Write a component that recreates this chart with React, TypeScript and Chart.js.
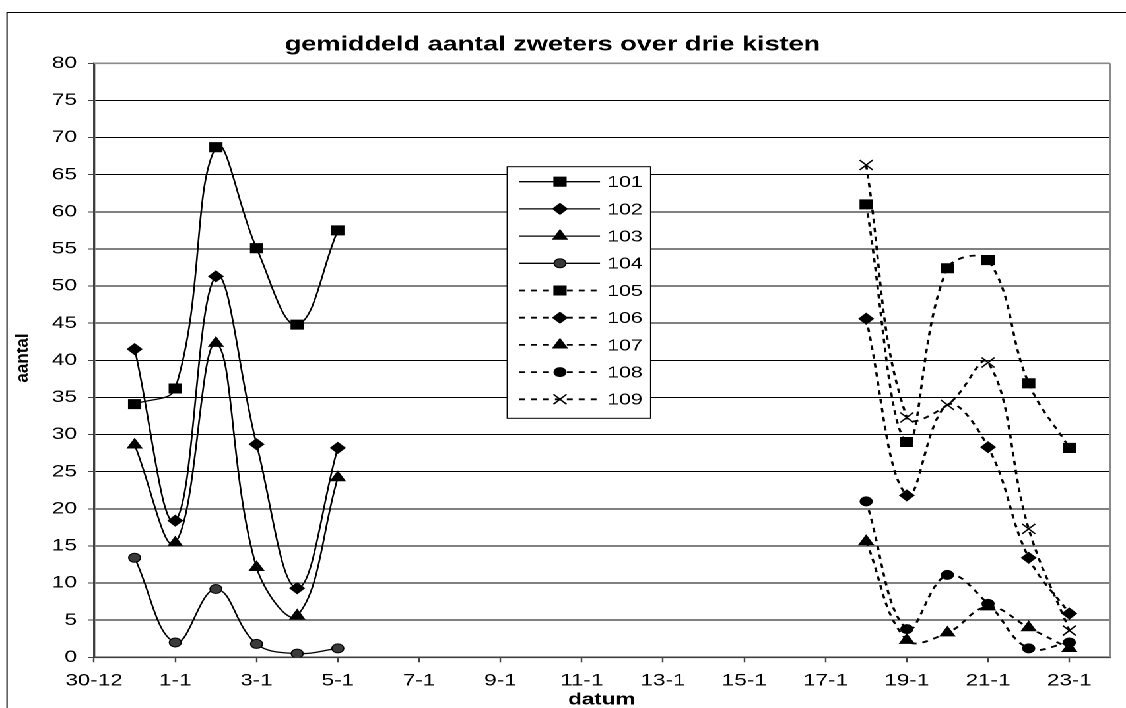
import React, { useEffect, useRef } from 'react';
import { Chart, registerables } from 'chart.js';

Chart.register(...registerables);

// ---- data ----
const seriesNames = ['101', '102', '103', '104', '105', '106', '107', '108', '109'];
const firstDates = ['31-12', '1-1', '2-1', '3-1', '4-1', '5-1'];
const secondDates = ['18-1', '19-1', '20-1', '21-1', '22-1', '23-1'];
const xTickLabels = ['30-12', '1-1', '3-1', '5-1', '7-1', '9-1', '11-1', '13-1', '15-1', '17-1', '19-1', '21-1', '23-1'];

const s101 = [34.1, 36.2, 68.7, 55.1, 44.8, 57.5];
const s102 = [41.5, 18.4, 51.3, 28.7, 9.3, 28.2];
const s103 = [28.6, 15.4, 42.3, 12.1, 5.6, 24.2];
const s104 = [13.4, 2.0, 9.2, 1.8, 0.5, 1.2];
const s105 = [61.0, 29.0, 52.4, 53.5, 36.9, 28.2];
const s106 = [45.6, 21.8, 34.0, 28.3, 13.4, 5.9];
const s107 = [15.6, 2.3, 3.3, 6.8, 4.0, 1.2];
const s108 = [21.0, 3.8, 11.1, 7.2, 1.2, 2.0];
const s109 = [66.3, 32.3, 34.0, 39.7, 17.3, 3.6];
// in the reference the 106 marker on 20-1 is not shown
const s106HiddenMarkers = ['20-1'];

const TITLE = 'gemiddeld aantal zweters over drie kisten';
const Y_TITLE = 'aantal';
const X_TITLE = 'datum';

// ---- layout ----
const W = 853;
const H = 708;
const S = 1126 / W; // horizontal stretch of the whole picture
const FONT = '"Liberation Sans", Arial, sans-serif';

// day index: 30-12 -> 0
function dayIndex(d: string): number {
  const [day, month] = d.split('-').map(Number);
  return month === 12 ? day - 30 : day + 1;
}

type Def = { values: number[]; dates: string[]; style: string; dashed: boolean; fill: string; r: number; hidden?: string[] };
const defs: Def[] = [
  { values: s101, dates: firstDates, style: 'rect', dashed: false, fill: '#000', r: 6.4 },
  { values: s102, dates: firstDates, style: 'rectRot', dashed: false, fill: '#000', r: 5.4 },
  { values: s103, dates: firstDates, style: 'triangle', dashed: false, fill: '#000', r: 6.2 },
  { values: s104, dates: firstDates, style: 'circle', dashed: false, fill: '#3a3a3a', r: 4.5 },
  { values: s105, dates: secondDates, style: 'rect', dashed: true, fill: '#000', r: 6.4 },
  { values: s106, dates: secondDates, style: 'rectRot', dashed: true, fill: '#000', r: 5.4, hidden: s106HiddenMarkers },
  { values: s107, dates: secondDates, style: 'triangle', dashed: true, fill: '#000', r: 6.2 },
  { values: s108, dates: secondDates, style: 'circle', dashed: true, fill: '#000', r: 4.5 },
  { values: s109, dates: secondDates, style: 'crossRot', dashed: true, fill: '#000', r: 7 },
];

const DASH = [4.5, 4.5];

function markerPath(ctx: CanvasRenderingContext2D, style: string, x: number, y: number, r: number) {
  ctx.beginPath();
  if (style === 'rect') {
    const s = Math.SQRT1_2 * r;
    ctx.rect(x - s, y - s, 2 * s, 2 * s);
  } else if (style === 'rectRot') {
    ctx.moveTo(x - r, y);
    ctx.lineTo(x, y - r);
    ctx.lineTo(x + r, y);
    ctx.lineTo(x, y + r);
    ctx.closePath();
  } else if (style === 'triangle') {
    ctx.moveTo(x, y - r);
    ctx.lineTo(x + 0.866 * r, y + 0.5 * r);
    ctx.lineTo(x - 0.866 * r, y + 0.5 * r);
    ctx.closePath();
  } else if (style === 'circle') {
    ctx.arc(x, y, r, 0, Math.PI * 2);
  } else if (style === 'crossRot') {
    const o = Math.SQRT1_2 * r;
    ctx.moveTo(x - o, y - o);
    ctx.lineTo(x + o, y + o);
    ctx.moveTo(x - o, y + o);
    ctx.lineTo(x + o, y - o);
  }
}

const framePlugin = {
  id: 'frame',
  beforeDatasetsDraw(chart: any) {
    const { ctx, chartArea: a } = chart;
    ctx.save();
    ctx.strokeStyle = '#8a8a8a';
    ctx.lineWidth = 1.6;
    ctx.beginPath();
    ctx.moveTo(a.left, a.top);
    ctx.lineTo(a.right, a.top);
    ctx.stroke();
    ctx.lineWidth = 2.2 / S;
    ctx.beginPath();
    ctx.moveTo(a.right, a.top);
    ctx.lineTo(a.right, a.bottom);
    ctx.stroke();
    ctx.restore();
  },
  afterDraw(chart: any) {
    const { ctx } = chart;
    ctx.save();
    // outer border (extends beyond the picture on the right and bottom)
    ctx.strokeStyle = '#000';
    ctx.lineWidth = 1;
    ctx.beginPath();
    ctx.moveTo(7 / S, H + 5);
    ctx.lineTo(7 / S, 12.5);
    ctx.lineTo(W + 5, 12.5);
    ctx.stroke();

    // title
    ctx.fillStyle = '#000';
    ctx.font = `bold 20.5px ${FONT}`;
    ctx.textAlign = 'center';
    ctx.textBaseline = 'alphabetic';
    ctx.fillText(TITLE, 552.5 / S, 50.7);

    // x title
    ctx.font = `bold 17px ${FONT}`;
    ctx.fillText(X_TITLE, 601.7 / S, 704.5);

    // y title
    ctx.save();
    ctx.translate(28 / S, 358);
    ctx.scale(0.75, 1);
    ctx.rotate(-Math.PI / 2);
    ctx.font = `bold 17px ${FONT}`;
    ctx.textBaseline = 'alphabetic';
    ctx.fillText(Y_TITLE, 0, 0);
    ctx.restore();

    // legend
    const bx = 507.3 / S, by = 166.7, bw = (650.7 - 507.3) / S, bh = 418.3 - 166.7;
    ctx.fillStyle = '#fff';
    ctx.fillRect(bx, by, bw, bh);
    ctx.strokeStyle = '#000';
    ctx.lineWidth = 1;
    ctx.strokeRect(bx, by, bw, bh);
    const lx0 = 519.3 / S, lx1 = 600 / S, mx = 560 / S, tx = 607.3 / S;
    seriesNames.forEach((name, i) => {
      const d = defs[i];
      const y = 181.7 + i * 27.2;
      ctx.strokeStyle = '#000';
      ctx.lineWidth = d.dashed ? 1.8 : 1.3;
      ctx.setLineDash(d.dashed ? DASH : []);
      ctx.beginPath();
      ctx.moveTo(lx0, y);
      ctx.lineTo(lx1, y);
      ctx.stroke();
      ctx.setLineDash([]);
      markerPath(ctx, d.style, mx, y, d.r);
      if (d.style === 'crossRot') {
        ctx.lineWidth = 1.3;
        ctx.stroke();
      } else {
        ctx.fillStyle = d.fill;
        ctx.fill();
        ctx.lineWidth = 1;
        ctx.strokeStyle = '#000';
        ctx.stroke();
      }
      ctx.fillStyle = '#000';
      ctx.font = `16px ${FONT}`;
      ctx.textAlign = 'left';
      ctx.textBaseline = 'middle';
      ctx.fillText(name, tx, y + 1);
    });
    ctx.restore();
  },
};

export default function App() {
  const ref = useRef<HTMLCanvasElement>(null);
  useEffect(() => {
    if (!ref.current) return;
    const datasets = defs.map((d, i) => ({
      label: seriesNames[i],
      data: d.dates.map((dt, j) => ({ x: dayIndex(dt), y: d.values[j] })),
      borderColor: '#000',
      borderWidth: d.dashed ? 1.8 : 1.3,
      borderDash: d.dashed ? DASH : [],
      tension: 0.4,
      fill: false,
      pointStyle: d.style,
      pointRadius: d.dates.map((dt) => (d.hidden && d.hidden.includes(dt) ? 0 : d.r)),
      pointBackgroundColor: d.fill,
      pointBorderColor: '#000',
      pointBorderWidth: d.style === 'crossRot' ? 1.3 : 1,
      order: -i,
    }));
    const chart = new Chart(ref.current, {
      type: 'line',
      data: { datasets },
      plugins: [framePlugin],
      options: {
        animation: false,
        responsive: true,
        maintainAspectRatio: false,
        devicePixelRatio: 2,
        layout: { padding: { top: 63.3, right: W - 1110 / S, left: 0, bottom: 0 } },
        plugins: { legend: { display: false }, title: { display: false }, tooltip: { enabled: false } },
        scales: {
          x: {
            type: 'linear',
            min: 0,
            max: 25,
            afterFit: (s: any) => { s.height = H - 657.3; },
            ticks: {
              stepSize: 2,
              includeBounds: false,
              autoSkip: false,
              maxRotation: 0,
              color: '#000',
              padding: 8.5,
              font: { family: FONT, size: 17 },
              callback: (v: any) => xTickLabels[Math.round(Number(v) / 2)] ?? '',
            },
            grid: { drawOnChartArea: false, drawTicks: true, tickLength: 5, tickColor: '#404040', tickWidth: 1.2 },
            border: { color: '#404040', width: 1.6 },
          },
          y: {
            min: 0,
            max: 80,
            afterFit: (s: any) => { s.width = 94 / S; },
            ticks: {
              stepSize: 5,
              color: '#000',
              padding: 8.4,
              font: { family: FONT, size: 17 },
            },
            grid: {
              color: (c: any) => (c.tick && c.tick.value === 80 ? 'rgba(0,0,0,0)' : '#000'),
              lineWidth: 1,
              tickLength: 4.5,
              tickColor: '#404040',
            },
            border: { color: '#404040', width: 2.2 / S },
          },
        },
      },
    } as any);
    return () => chart.destroy();
  }, []);
  return (
    <div
      style={{
        position: 'fixed',
        left: 0,
        top: 0,
        width: W,
        height: H,
        transform: `scaleX(${S})`,
        transformOrigin: '0 0',
        background: '#fff',
      }}
    >
      <canvas ref={ref} />
    </div>
  );
}
